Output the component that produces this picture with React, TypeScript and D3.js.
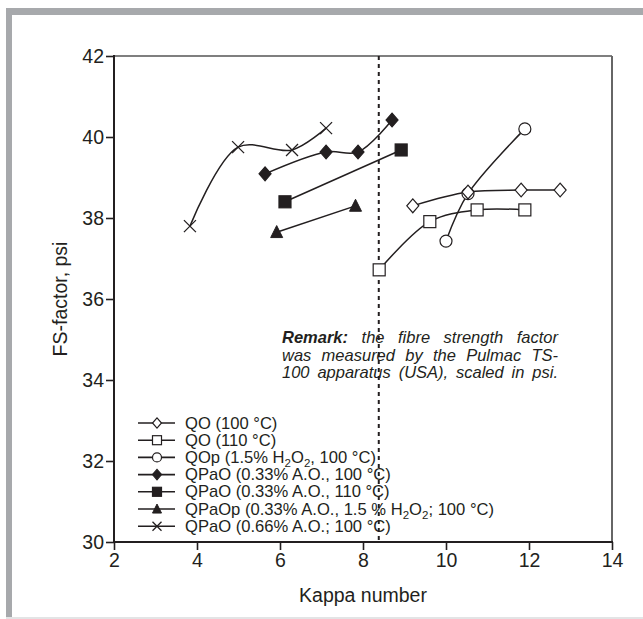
import React, { useEffect, useRef } from "react";
import * as d3 from "d3";

const xTicks = [2, 4, 6, 8, 10, 12, 14];
const yTicks = [30, 32, 34, 36, 38, 40, 42];

const kQO100 = [9.2, 10.53, 11.81, 12.75];
const fQO100 = [38.3, 38.64, 38.69, 38.69];
const kQO110 = [8.39, 9.61, 10.75, 11.9];
const fQO110 = [36.72, 37.91, 38.2, 38.2];
const kQOp = [10.0, 10.53, 11.9];
const fQOp = [37.43, 38.6, 40.2];
const kQPaO100 = [5.64, 7.11, 7.88, 8.7];
const fQPaO100 = [39.09, 39.63, 39.63, 40.42];
const kQPaO110 = [6.12, 8.92];
const fQPaO110 = [38.4, 39.68];
const kQPaOp = [5.92, 7.82];
const fQPaOp = [37.65, 38.3];
const kQPaO66 = [3.83, 4.99, 6.29, 7.11];
const fQPaO66 = [37.8, 39.75, 39.68, 40.22];

const legendLabels = [
  ["QO (100 °C)"],
  ["QO (110 °C)"],
  ["QOp (1.5% H", "2", "O", "2", ", 100 °C)"],
  ["QPaO (0.33% A.O., 100 °C)"],
  ["QPaO (0.33% A.O., 110 °C)"],
  ["QPaOp (0.33% A.O., 1.5 % H", "2", "O", "2", "; 100 °C)"],
  ["QPaO (0.66% A.O.;  100 °C)"],
];
const markerTypes = ["diamondOpen", "squareOpen", "circleOpen", "diamondFilled", "squareFilled", "triangleFilled", "cross"];
const seriesK = [kQO100, kQO110, kQOp, kQPaO100, kQPaO110, kQPaOp, kQPaO66];
const seriesF = [fQO100, fQO110, fQOp, fQPaO100, fQPaO110, fQPaOp, fQPaO66];
const markerDrawOrder = [2, 1, 0, 3, 4, 5, 6];

const dashedKappa = 8.38;
const remarkLines = [
  [["Remark:", "bold"], [" the fibre strength factor", "normal"]],
  [["was measured by the Pulmac TS-", "normal"]],
  [["100 apparatus (USA), scaled in psi.", "normal"]],
];

const FONT = "Arial, 'Liberation Sans', Helvetica, sans-serif";
const INK = "#231f20";

function drawMarker(g: any, type: string, x: number, y: number, s: number) {
  const h = s / 2;
  if (type === "diamondOpen" || type === "diamondFilled") {
    g.append("path")
      .attr("d", `M${x},${y - h * 1.15}L${x + h},${y}L${x},${y + h * 1.15}L${x - h},${y}Z`)
      .attr("fill", type === "diamondOpen" ? "#fff" : INK)
      .attr("stroke", INK).attr("stroke-width", 1.2);
  } else if (type === "squareOpen" || type === "squareFilled") {
    g.append("rect").attr("x", x - h).attr("y", y - h).attr("width", s).attr("height", s)
      .attr("fill", type === "squareOpen" ? "#fff" : INK)
      .attr("stroke", INK).attr("stroke-width", 1.2);
  } else if (type === "circleOpen") {
    g.append("circle").attr("cx", x).attr("cy", y).attr("r", h)
      .attr("fill", "#fff").attr("stroke", INK).attr("stroke-width", 1.2);
  } else if (type === "triangleFilled") {
    g.append("path")
      .attr("d", `M${x},${y - h * 1.1}L${x + h},${y + h * 0.9}L${x - h},${y + h * 0.9}Z`)
      .attr("fill", INK).attr("stroke", INK).attr("stroke-width", 1);
  } else if (type === "cross") {
    g.append("path")
      .attr("d", `M${x - h},${y - h}L${x + h},${y + h}M${x - h},${y + h}L${x + h},${y - h}`)
      .attr("fill", "none").attr("stroke", INK).attr("stroke-width", 1.3);
  }
}

export default function App() {
  const ref = useRef<SVGSVGElement>(null);
  useEffect(() => {
    const svg = d3.select(ref.current);
    svg.selectAll("*").remove();
    const W = 643, H = 619;
    const left = 114, right = 612, top = 56, bottom = 542;

    // frame
    svg.append("rect").attr("x", 0).attr("y", 0).attr("width", W).attr("height", H).attr("fill", "#fff");
    svg.append("rect").attr("x", 6).attr("y", 8).attr("width", W - 6).attr("height", 7).attr("fill", "#a7a9ac");
    svg.append("rect").attr("x", 6).attr("y", 8).attr("width", 6).attr("height", 610).attr("fill", "#a7a9ac");
    svg.append("rect").attr("x", 6).attr("y", 617).attr("width", W - 6).attr("height", 2).attr("fill", "#e3e4e5");

    const x = d3.scaleLinear().domain([2, 14]).range([left, right]);
    const y = d3.scaleLinear().domain([30, 42]).range([bottom, top]);

    // top & right frame lines
    svg.append("line").attr("x1", left).attr("x2", right).attr("y1", top).attr("y2", top)
      .attr("stroke", "#555").attr("stroke-width", 1.6);
    svg.append("line").attr("x1", right).attr("x2", right).attr("y1", top).attr("y2", bottom)
      .attr("stroke", "#666").attr("stroke-width", 2);

    // dashed line
    svg.append("line").attr("x1", x(dashedKappa)).attr("x2", x(dashedKappa)).attr("y1", top).attr("y2", bottom)
      .attr("stroke", INK).attr("stroke-width", 2).attr("stroke-dasharray", "4,4");

    // axes
    const xAxis = svg.append("g").attr("transform", `translate(0,${bottom})`)
      .call(d3.axisBottom(x).tickValues(xTicks).tickSize(8).tickPadding(3).tickFormat(d3.format("d")));
    const yAxis = svg.append("g").attr("transform", `translate(${left},0)`)
      .call(d3.axisLeft(y).tickValues(yTicks).tickSize(8).tickPadding(2).tickFormat(d3.format("d")));
    [xAxis, yAxis].forEach((a) => {
      a.select(".domain").remove();
      a.selectAll("line").attr("stroke", INK).attr("stroke-width", 1.6);
      a.selectAll("text").attr("font-family", FONT).attr("font-size", 19.5).attr("fill", INK);
    });
    svg.append("line").attr("x1", left).attr("x2", left).attr("y1", top - 1).attr("y2", bottom + 1)
      .attr("stroke", INK).attr("stroke-width", 2);
    svg.append("line").attr("x1", left - 1).attr("x2", right + 1).attr("y1", bottom).attr("y2", bottom)
      .attr("stroke", INK).attr("stroke-width", 2);

    // axis titles
    svg.append("text").attr("x", (left + right) / 2).attr("y", 602).attr("text-anchor", "middle")
      .attr("font-family", FONT).attr("font-size", 19.5).attr("fill", INK).text("Kappa number");
    svg.append("text").attr("transform", `translate(67,${(top + bottom) / 2}) rotate(-90)`)
      .attr("text-anchor", "middle").attr("font-family", FONT).attr("font-size", 19.5).attr("fill", INK)
      .text("FS-factor, psi");

    // series
    const line = d3.line<[number, number]>().x((d) => x(d[0])).y((d) => y(d[1])).curve(d3.curveCatmullRom.alpha(0.5));
    seriesK.forEach((ks, i) => {
      const pts: [number, number][] = ks.map((k, j) => [k, seriesF[i][j]]);
      svg.append("path").attr("d", line(pts) as string).attr("fill", "none")
        .attr("stroke", INK).attr("stroke-width", 1.5);
    });
    markerDrawOrder.forEach((i) => {
      const g = svg.append("g");
      seriesK[i].forEach((k, j) => drawMarker(g, markerTypes[i], x(k), y(seriesF[i][j]), 12));
    });

    // legend
    legendLabels.forEach((parts, i) => {
      const cy = 423 + i * 17.2;
      svg.append("line").attr("x1", 138).attr("x2", 175).attr("y1", cy).attr("y2", cy)
        .attr("stroke", INK).attr("stroke-width", 1.6);
      drawMarker(svg.append("g"), markerTypes[i], 157, cy, 9);
      const t = svg.append("text").attr("x", 185).attr("y", cy + 5.5)
        .attr("font-family", FONT).attr("font-size", 16.6).attr("fill", INK);
      parts.forEach((p, j) => {
        const isSub = parts.length > 1 && (j === 1 || j === 3);
        const ts = t.append("tspan").text(p);
        if (isSub) ts.attr("font-size", 11.5).attr("dy", 4);
        else if (j > 1) ts.attr("dy", -4);
      });
    });

    // remark
    const rx = 282, rEnd = 558;
    remarkLines.forEach((parts, i) => {
      const t = svg.append("text").attr("x", rx).attr("y", 343 + i * 17.5)
        .attr("font-family", FONT).attr("font-size", 16.5).attr("font-style", "italic").attr("fill", INK)
        .attr("xml:space", "preserve");
      parts.forEach((p) => t.append("tspan").attr("font-weight", p[1]).text(p[0]));
      const node = t.node() as SVGTextElement;
      const w = node.getComputedTextLength();
      const full = parts.map((p) => p[0]).join("");
      const spaces = (full.match(/ /g) || []).length;
      if (spaces > 0 && w < rEnd - rx) t.attr("word-spacing", (rEnd - rx - w) / spaces);
    });
  }, []);
  return (
    <svg ref={ref} width={643} height={619} style={{ position: "absolute", left: 0, top: 0, display: "block" }} />
  );
}
